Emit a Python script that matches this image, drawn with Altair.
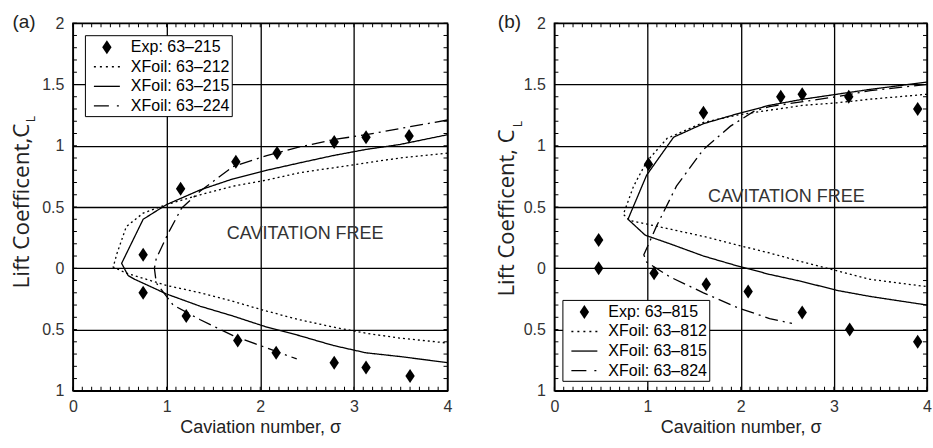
import altair as alt
import pandas as pd

FONT = "Liberation Sans"
TITLE_FONT = "Open Sans"
INK = "#222222"

# Axis ticks
SIGMA_MAJOR = [0, 1, 2, 3, 4]
CL_MAJOR = [-1, -0.5, 0, 0.5, 1, 1.5, 2]
SIGMA_MINOR = [i / 10 for i in range(0, 41)]
CL_MINOR = [i / 10 for i in range(-10, 21)]

# ---- Panel (a): 63-2xx sections ----
exp_a_label = "Exp: 63–215"
exp_a_sigma = [0.75, 0.75, 1.15, 1.21, 1.74, 1.76, 2.18, 2.17, 2.79, 2.79, 3.13, 3.13, 3.59, 3.60]
exp_a_cl = [0.11, -0.20, 0.65, -0.39, 0.87, -0.59, 0.94, -0.69, 1.03, -0.77, 1.07, -0.81, 1.08, -0.88]

xf_a_labels = ["XFoil: 63–212", "XFoil: 63–215", "XFoil: 63–224"]
xf_a_212_sigma = [4.0, 3.49, 3.13, 2.78, 2.42, 2.07, 1.71, 1.36, 1.0, 0.75, 0.57, 0.47, 0.43,
                  0.57, 1.0, 1.36, 1.71, 2.07, 2.42, 2.78, 3.13, 3.49, 4.0]
xf_a_212_cl = [0.94, 0.90, 0.86, 0.82, 0.78, 0.72, 0.67, 0.60, 0.52, 0.45, 0.34, 0.12, 0.01,
               -0.04, -0.14, -0.20, -0.27, -0.35, -0.42, -0.48, -0.53, -0.57, -0.61]
xf_a_215_sigma = [4.0, 3.49, 3.13, 2.78, 2.42, 2.07, 1.71, 1.36, 1.0, 0.75, 0.52,
                  0.59, 0.66, 1.0, 1.36, 1.71, 2.07, 2.42, 2.78, 3.13, 3.49, 4.0]
xf_a_215_cl = [1.09, 1.01, 0.97, 0.92, 0.86, 0.80, 0.73, 0.64, 0.52, 0.40, 0.04,
               -0.06, -0.09, -0.21, -0.31, -0.39, -0.48, -0.55, -0.63, -0.69, -0.72, -0.77]
xf_a_224_sigma = [4.0, 3.49, 3.13, 2.78, 2.42, 2.07, 1.71, 1.36, 1.16, 1.02, 0.89, 0.87,
                  0.89, 1.07, 1.36, 1.71, 2.07, 2.39]
xf_a_224_cl = [1.21, 1.14, 1.09, 1.05, 0.99, 0.92, 0.83, 0.63, 0.49, 0.29, 0.08, 0.0,
               -0.12, -0.30, -0.42, -0.55, -0.65, -0.74]

# ---- Panel (b): 63-8xx sections ----
exp_b_label = "Exp: 63–815"
exp_b_sigma = [0.475, 0.475, 1.01, 1.07, 1.60, 1.63, 2.08, 2.43, 2.66, 2.66, 3.16, 3.17, 3.90, 3.90]
exp_b_cl = [0.23, 0.0, 0.85, -0.04, 1.27, -0.13, -0.19, 1.40, 1.42, -0.36, 1.40, -0.50, 1.30, -0.60]

xf_b_labels = ["XFoil: 63–812", "XFoil: 63–815", "XFoil: 63–824"]
xf_b_812_sigma = [4.0, 3.39, 3.03, 2.67, 2.31, 1.96, 1.6, 1.21, 0.99, 0.85, 0.74,
                  0.81, 1.24, 1.6, 1.96, 2.31, 2.67, 3.03, 3.39, 4.0]
xf_b_812_cl = [1.42, 1.38, 1.35, 1.33, 1.29, 1.25, 1.19, 1.06, 0.87, 0.67, 0.44,
               0.39, 0.32, 0.26, 0.19, 0.125, 0.05, -0.02, -0.09, -0.15]
xf_b_815_sigma = [4.0, 3.39, 3.03, 2.67, 2.31, 1.96, 1.6, 1.28, 0.99, 0.79,
                  0.975, 1.24, 1.6, 1.96, 2.31, 2.67, 3.03, 3.39, 4.0]
xf_b_815_cl = [1.52, 1.46, 1.42, 1.38, 1.33, 1.26, 1.18, 1.07, 0.76, 0.40,
               0.27, 0.20, 0.10, 0.02, -0.05, -0.11, -0.18, -0.23, -0.30]
xf_b_824_sigma = [4.0, 3.39, 3.03, 2.67, 2.31, 2.14, 1.89, 1.6, 1.31, 1.1, 0.96,
                  0.99, 1.24, 1.6, 1.96, 2.31, 2.55]
xf_b_824_cl = [1.50, 1.45, 1.40, 1.36, 1.32, 1.28, 1.16, 0.97, 0.67, 0.35, 0.11,
               0.05, -0.07, -0.20, -0.32, -0.41, -0.45]

# Curve styles: dotted / solid / long dash-dot
DASHES = [[2, 3], [1, 0], [13, 5, 2, 5]]


def _bar(x0, x1):
    return f"M{x0},-0.065H{x1}V0.065H{x0}Z"


# Symbol glyphs (unit box = 10 px at size 400): the experiment diamond, then
# filled sample strokes for the three curve styles, so one shape legend lists all series.
GLYPHS = [
    "M0,-0.7L0.47,0L0,0.7L-0.47,0Z",
    "".join(_bar(x, round(x + 0.2, 2)) for x in (-1.3, -0.7, -0.1, 0.5, 1.1)),
    _bar(-1.3, 1.3),
    _bar(-1.3, 0.2) + _bar(1.0, 1.2),
]
SYMBOL_SIZE = 400


def single(text):
    return alt.Chart(pd.DataFrame({"t": [text]}))


def build_panel(exp_label, exp_sigma, exp_cl, curve_labels, curve_sigmas, curve_cls,
                xtitle, ytitle, tag, note_sigma, note_cl, width,
                legend_x, legend_y, ytitle_x, ytitle_y, ytitle_size, sub_x, sub_y, tag_x):
    height = 368
    rows = []
    for lab, ss, cc in zip(curve_labels, curve_sigmas, curve_cls):
        for i, (s, c) in enumerate(zip(ss, cc)):
            rows.append({"series": lab, "idx": i, "sigma": s, "cl": c})
    curves = pd.DataFrame(rows)
    exp = pd.DataFrame({"sigma": exp_sigma, "cl": exp_cl, "series": exp_label})
    note = pd.DataFrame({"sigma": [note_sigma], "cl": [note_cl], "t": ["CAVITATION FREE"]})
    sig_minor = pd.DataFrame({"v": SIGMA_MINOR})
    cl_minor = pd.DataFrame({"v": CL_MINOR})
    domain = [exp_label] + curve_labels

    xs = alt.Scale(domain=[0, 4], nice=False, zero=False)
    ys = alt.Scale(domain=[-1, 2], nice=False, zero=False)

    major_x = alt.Axis(orient="bottom", values=SIGMA_MAJOR, grid=True, gridColor="black",
                       gridWidth=1.3, gridOpacity=1, ticks=False, domain=False,
                       labelFont=FONT, labelFontSize=16, labelColor="#333333", labelPadding=8,
                       labelFlush=False, format="d",
                       title=xtitle, titleFont=FONT, titleFontSize=18, titleFontWeight="normal",
                       titleColor=INK, titlePadding=4)
    major_y = alt.Axis(orient="left", values=CL_MAJOR, grid=True, gridColor="black",
                       gridWidth=1.3, gridOpacity=1, ticks=False, domain=False,
                       labelFont=FONT, labelFontSize=16, labelColor="#333333", labelPadding=9,
                       labelFlush=False, labelExpr="format(abs(datum.value), '~g')", title=None)

    legend = alt.Legend(
        title=None, orient="none", legendX=legend_x, legendY=legend_y,
        labelFont=FONT, labelFontSize=16, labelColor="black",
        labelExpr="datum.label + '\u00a0\u00a0\u00a0\u00a0'",
        symbolStrokeWidth=0, symbolFillColor="black", symbolSize=SYMBOL_SIZE,
        strokeColor="black", fillColor="white",
        padding=2, symbolOffset=10, labelOffset=14, rowPadding=1.6,
    )

    lines = alt.Chart(curves).mark_line(color="black", strokeWidth=1.3).encode(
        x=alt.X("sigma:Q", scale=xs, axis=major_x),
        y=alt.Y("cl:Q", scale=ys, axis=major_y),
        strokeDash=alt.StrokeDash("series:N", scale=alt.Scale(domain=curve_labels, range=DASHES),
                                  legend=None),
        detail="series:N",
        order=alt.Order("idx:Q"),
    )

    points = alt.Chart(exp).mark_point(filled=True, color="black", strokeWidth=0,
                                       opacity=1, size=SYMBOL_SIZE).encode(
        x=alt.X("sigma:Q", scale=xs, axis=None),
        y=alt.Y("cl:Q", scale=ys, axis=None),
        shape=alt.Shape("series:N", scale=alt.Scale(domain=domain, range=GLYPHS), legend=legend),
    )

    note_text = alt.Chart(note).mark_text(font=FONT, fontSize=18, color="#333333",
                                          align="center", baseline="middle").encode(
        x=alt.X("sigma:Q", scale=xs, axis=None),
        y=alt.Y("cl:Q", scale=ys, axis=None),
        text="t:N",
    )

    # small inward ticks on all four sides of the frame
    tick_style = dict(color="black", thickness=1, size=4, opacity=1)
    ticks_bottom = alt.Chart(sig_minor).mark_tick(orient="vertical", **tick_style).encode(
        x=alt.X("v:Q", scale=xs, axis=None), y=alt.value(height - 2))
    ticks_top = alt.Chart(sig_minor).mark_tick(orient="vertical", **tick_style).encode(
        x=alt.X("v:Q", scale=xs, axis=None), y=alt.value(2))
    ticks_left = alt.Chart(cl_minor).mark_tick(orient="horizontal", **tick_style).encode(
        y=alt.Y("v:Q", scale=ys, axis=None), x=alt.value(2))
    ticks_right = alt.Chart(cl_minor).mark_tick(orient="horizontal", **tick_style).encode(
        y=alt.Y("v:Q", scale=ys, axis=None), x=alt.value(width - 2))

    ytitle_main = single(ytitle).mark_text(font=TITLE_FONT, fontSize=ytitle_size, angle=270,
                                           color=INK, align="center", baseline="middle").encode(
        x=alt.value(ytitle_x), y=alt.value(ytitle_y), text="t:N")
    ytitle_sub = single("L").mark_text(font=TITLE_FONT, fontSize=12, angle=270, color=INK,
                                       align="center", baseline="middle").encode(
        x=alt.value(sub_x), y=alt.value(sub_y), text="t:N")
    tag_text = single(tag).mark_text(font=FONT, fontSize=19, color=INK,
                                     align="center", baseline="middle").encode(
        x=alt.value(tag_x), y=alt.value(-1), text="t:N")

    return (
        alt.layer(lines, ticks_bottom, ticks_top, ticks_left, ticks_right,
                  points, note_text, ytitle_main, ytitle_sub, tag_text)
        .resolve_axis(x="independent", y="independent")
        .properties(width=width, height=height)
    )


panel_a = build_panel(
    exp_a_label, exp_a_sigma, exp_a_cl, xf_a_labels,
    [xf_a_212_sigma, xf_a_215_sigma, xf_a_224_sigma],
    [xf_a_212_cl, xf_a_215_cl, xf_a_224_cl],
    "Caviation number, σ", "Lift Coefficent,C", "(a)", 2.48, 0.28, 375,
    legend_x=12, legend_y=12, ytitle_x=-51, ytitle_y=183, ytitle_size=22.5,
    sub_x=-42, sub_y=96, tag_x=-49,
)

panel_b = build_panel(
    exp_b_label, exp_b_sigma, exp_b_cl, xf_b_labels,
    [xf_b_812_sigma, xf_b_815_sigma, xf_b_824_sigma],
    [xf_b_812_cl, xf_b_815_cl, xf_b_824_cl],
    "Cavaition number, σ", "Lift Coefficent, C", "(b)", 2.49, 0.58, 373,
    legend_x=8, legend_y=277, ytitle_x=-47, ytitle_y=190, ytitle_size=22,
    sub_x=-36, sub_y=101, tag_x=-45,
)

chart = (
    alt.hconcat(panel_a, panel_b, spacing=42)
    .resolve_scale(strokeDash="independent", shape="independent")
    .resolve_legend(shape="independent")
    .configure_view(stroke="black", strokeWidth=1.5)
    .properties(padding={"left": 10, "top": 12, "right": 0, "bottom": 0}, background="white")
)

chart.save("out.html", embed_options={"renderer": "svg", "actions": False})
